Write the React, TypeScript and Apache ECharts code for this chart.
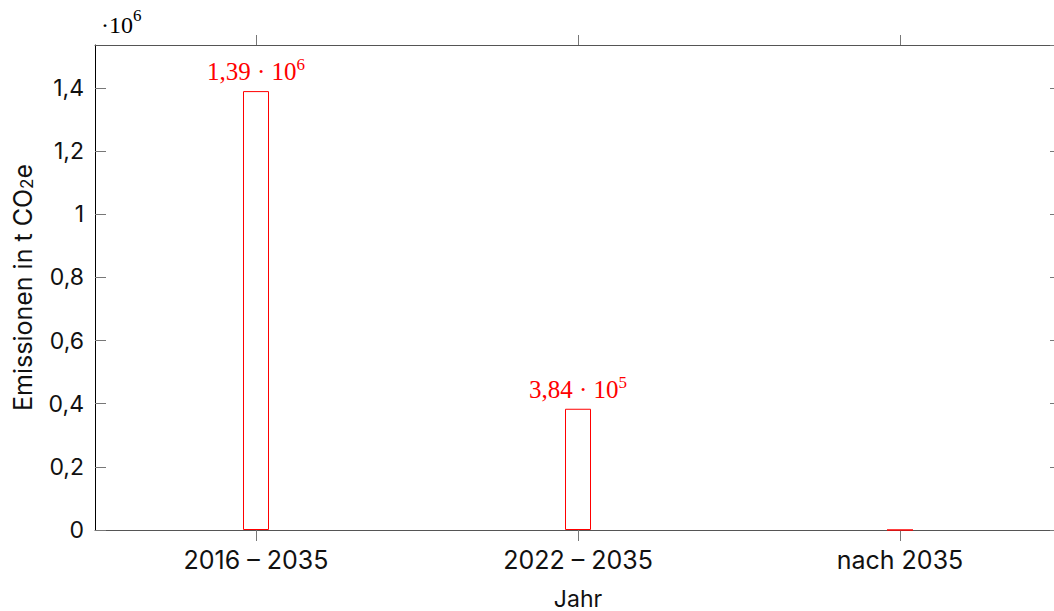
import React, { useEffect, useRef } from "react";
import * as echarts from "echarts";

const categories = ["2016 – 2035", "2022 – 2035", "nach 2035"];
const emissions = [1390000, 384000, 0];
const yTicks = [0, 200000, 400000, 600000, 800000, 1000000, 1200000, 1400000];
const yMax = 1536000;

const sansFont = "Inter";
const serifFont = "Liberation Serif";

function sci(v: number): string {
  if (!v) return "";
  const e = Math.floor(Math.log10(v));
  const m = (v / Math.pow(10, e)).toFixed(2).replace(".", ",");
  return `{a|${m} · 10}{s|${e}}`;
}

export default function App() {
  const ref = useRef<HTMLDivElement>(null);
  useEffect(() => {
    if (!ref.current) return;
    const chart = echarts.init(ref.current, undefined, { renderer: "svg" });
    const tickSet = new Set(yTicks);
    chart.setOption({
      animation: false,
      grid: { left: 95, right: -7, top: 45, bottom: 81, containLabel: false, outerBoundsMode: "none" },
      xAxis: [
        {
          type: "category",
          data: categories,
          position: "bottom",
          boundaryGap: true,
          axisLine: { onZero: false, lineStyle: { color: "#555", width: 1 } },
          axisTick: { show: true, alignWithLabel: true, inside: false, length: 11, lineStyle: { color: "#777", width: 1 } },
          axisLabel: { margin: 17, fontFamily: sansFont, fontSize: 25, color: "#111" },
          name: "Jahr",
          nameLocation: "middle",
          nameGap: 57,
          nameTextStyle: { fontFamily: sansFont, fontSize: 23, color: "#111" },
        },
        {
          type: "category",
          data: categories,
          position: "top",
          boundaryGap: true,
          axisLine: { show: true, onZero: false, lineStyle: { color: "#555", width: 1 } },
          axisTick: { show: true, alignWithLabel: true, inside: false, length: 10, lineStyle: { color: "#777", width: 1 } },
          axisLabel: { show: false },
        },
      ],
      yAxis: [
        {
          type: "value",
          min: 0,
          max: yMax,
          interval: 200000,
          position: "left",
          splitLine: { show: false },
          axisLine: { show: true, onZero: false, lineStyle: { color: "#000", width: 1 } },
          axisTick: { show: true, inside: true, length: 11, lineStyle: { color: "#777" } },
          axisLabel: {
            margin: 11,
            fontFamily: sansFont,
            fontSize: 23,
            color: "#111",
            showMaxLabel: false,
            formatter: (v: number) =>
              tickSet.has(v) ? String(v / 1e6).replace(".", ",") : "",
          },
          name: "{a|Emissionen in t CO}{s|2}{a|e}",
          nameLocation: "middle",
          nameGap: 60,
          nameTextStyle: {
            fontFamily: sansFont,
            color: "#111",
            rich: {
              a: { fontFamily: sansFont, fontSize: 25, color: "#111", lineHeight: 28, verticalAlign: "bottom" },
              s: { fontFamily: sansFont, fontSize: 17, color: "#111", lineHeight: 16, verticalAlign: "bottom" },
            },
          },
        },
        {
          type: "value",
          min: 0,
          max: yMax,
          interval: 200000,
          position: "right",
          splitLine: { show: false },
          axisLine: { show: true, onZero: false, lineStyle: { color: "#555", width: 1 } },
          axisTick: { show: true, inside: true, length: 11, lineStyle: { color: "#777" } },
          axisLabel: { show: false },
        },
      ],
      graphic: [
        {
          type: "text",
          left: 101,
          top: 7,
          style: {
            text: "{a|·10}{s|6}",
            rich: {
              a: { fontFamily: serifFont, fontSize: 24, color: "#000", lineHeight: 30, verticalAlign: "bottom" },
              s: { fontFamily: serifFont, fontSize: 17, color: "#000", lineHeight: 16, verticalAlign: "top" },
            },
          },
        },
      ],
      series: [
        {
          type: "bar",
          data: emissions,
          xAxisIndex: 0,
          yAxisIndex: 0,
          barWidth: 26,
          itemStyle: { color: "#fff", borderColor: "#ff0000", borderWidth: 1 },
          label: {
            show: true,
            position: "top",
            distance: 7,
            formatter: (p: any) => sci(p.value),
            rich: {
              a: { fontFamily: serifFont, fontSize: 25, color: "#ff0000", lineHeight: 28, verticalAlign: "bottom" },
              s: { fontFamily: serifFont, fontSize: 17, color: "#ff0000", lineHeight: 16, verticalAlign: "top" },
            },
          },
        },
      ],
    });
    return () => chart.dispose();
  }, []);
  return (
    <div
      ref={ref}
      style={{ position: "absolute", left: 0, top: 0, width: 1054, height: 611 }}
    />
  );
}
